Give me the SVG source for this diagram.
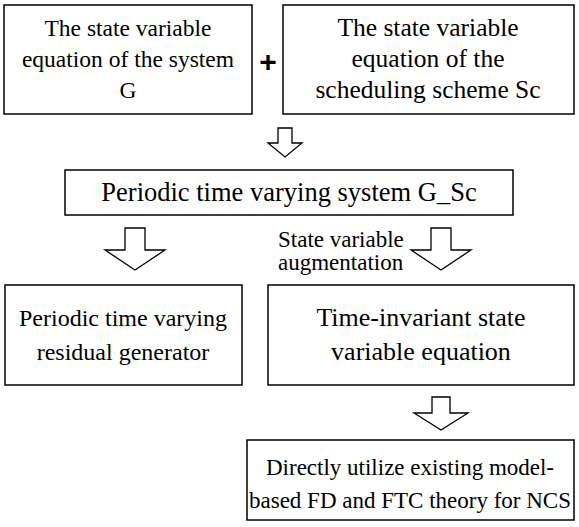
<svg xmlns="http://www.w3.org/2000/svg" width="579" height="527" viewBox="0 0 579 527">
<style>
.box{fill:#fff;stroke:#000;stroke-width:1.5}
.arr{fill:#fff;stroke:#000;stroke-width:1.3;stroke-linejoin:miter}
text{font-family:"Liberation Serif","Times New Roman",serif;font-size:24px;fill:#000;text-anchor:middle}
.lbl{font-size:23px;text-anchor:start}
.plus{font-family:"Liberation Sans",Arial,sans-serif;font-weight:bold;font-size:30px}
</style>
<rect width="579" height="527" fill="#fff"/>
<g id="nodeA">
<rect class="box" x="4" y="5" width="248" height="109"/>
<text x="128" y="36" style="font-size:23.5px">The state variable</text>
<text x="128" y="67" style="font-size:23.5px">equation of the system</text>
<text x="128" y="98" style="font-size:23.5px">G</text>
</g>
<g id="plus"><text class="plus" x="268" y="72">+</text></g>
<g id="nodeB">
<rect class="box" x="283" y="5" width="291" height="109"/>
<text x="428" y="36" style="font-size:25.5px">The state variable</text>
<text x="428" y="67" style="font-size:25.5px">equation of the</text>
<text x="428" y="98" style="font-size:25.5px">scheduling scheme Sc</text>
</g>
<g id="nodeC">
<rect class="box" x="65" y="170" width="448" height="45"/>
<text x="289" y="201" style="font-size:26.5px">Periodic time varying system G_Sc</text>
</g>
<g id="nodeD">
<rect class="box" x="5" y="285" width="237" height="100"/>
<text x="123" y="326">Periodic time varying</text>
<text x="123" y="360">residual generator</text>
</g>
<g id="nodeE">
<rect class="box" x="268" y="285" width="306" height="100"/>
<text x="421" y="326" style="font-size:26px">Time-invariant state</text>
<text x="421" y="360" style="font-size:26px">variable equation</text>
</g>
<g id="nodeF">
<rect class="box" x="247" y="440" width="327" height="80"/>
<text x="410" y="475" style="font-size:23px">Directly utilize existing model-</text>
<text x="410" y="508" style="font-size:23px">based FD and FTC theory for NCS</text>
</g>
<g id="connectors">
<polygon class="arr" points="278,128 292,128 292,143 302,143 285,157 268,143 278,143"/>
<polygon class="arr" points="125,228 145,228 145,250 165,250 135,270 105,250 125,250"/>
<polygon class="arr" points="431,228 451,228 451,250 471,250 441,270 411,250 431,250"/>
<text class="lbl" x="278" y="247">State variable</text>
<text class="lbl" x="278" y="270">augmentation</text>
<polygon class="arr" points="432,397 450,397 450,413 468,413 441,430 414,413 432,413"/>
</g>
</svg>
